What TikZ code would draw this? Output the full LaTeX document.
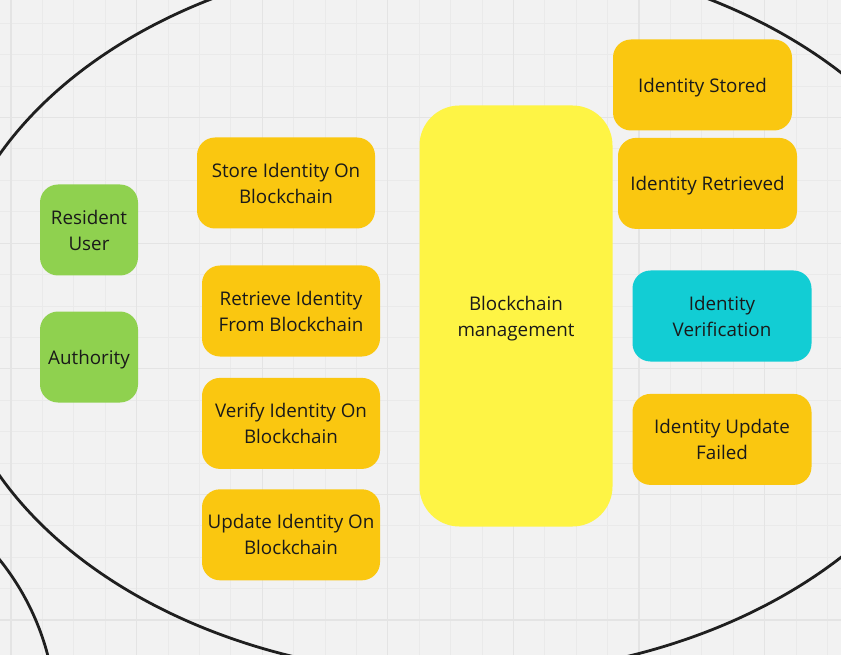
\documentclass[tikz,border=0pt]{standalone}
\usepackage{fontspec}
\setmainfont{Open Sans}
\usetikzlibrary{positioning}
\definecolor{canvas}{HTML}{F2F2F2}
\definecolor{gridminor}{HTML}{EAEAEA}
\definecolor{gridmajor}{HTML}{E4E4E4}
\definecolor{ink}{HTML}{1A1A1A}
\definecolor{stickygreen}{HTML}{8FD14F}
\definecolor{stickyorange}{HTML}{FAC710}
\definecolor{stickyyellow}{HTML}{FEF445}
\definecolor{stickycyan}{HTML}{12CDD4}
\tikzset{
  card/.style={rounded corners=18pt, font=\fontsize{18.8}{26}\selectfont, text=ink,
    align=center, minimum height=91pt, inner sep=2pt, text depth=0pt},
  actor/.style={card, fill=stickygreen, minimum width=98pt},
  usecase/.style={card, fill=stickyorange, minimum width=178pt},
  event/.style={card, fill=stickyorange, minimum width=179pt},
  check/.style={card, fill=stickycyan, minimum width=179pt},
  hub/.style={card, fill=stickyyellow, rounded corners=40pt, minimum width=193pt,
    minimum height=421pt},
  boundary/.style={draw=black!88, line width=2.8pt},
}
\begin{document}
\begin{tikzpicture}[x=1pt, y=-1pt, node distance=20pt and 20pt]
  \useasboundingbox (0,0) rectangle (841,655);
  \fill[canvas] (0,0) rectangle (841,655);
  % grid
  \foreach \i in {0,...,26} {
    \draw[gridminor, line width=1pt] ({11+31.4*\i},0) -- ++(0,655);
  }
  \foreach \j in {0,...,20} {
    \draw[gridminor, line width=1pt] (0,{-8+31.4*\j}) -- ++(841,0);
  }
  \foreach \i in {0,...,6} {
    \draw[gridmajor, line width=1.3pt] ({11+125.6*\i},0) -- ++(0,655);
  }
  \foreach \j in {0,...,5} {
    \draw[gridmajor, line width=1.3pt] (0,{-8+125.6*\j}) -- ++(841,0);
  }
  % system boundary
  \begin{scope}
    \clip (0,0) rectangle (841,655);
    \draw[boundary] (460,315) ellipse [x radius=514, y radius=361];
    \draw[boundary] (-200,720) circle [radius=256];
  \end{scope}
  % actors
  \node[actor] (resident) at (89,230) {Resident\\User};
  \node[actor] (authority) at (89,357) {Authority};
  % use cases
  \node[usecase] (store) at (286,183) {Store Identity On\\Blockchain};
  \node[usecase] (retrieve) at (291,311) {Retrieve Identity\\From Blockchain};
  \node[usecase, below=21pt of retrieve] (verify) {Verify Identity On\\Blockchain};
  \node[usecase, below=20pt of verify] (update) {Update Identity On\\Blockchain};
  % blockchain
  \node[hub] (chain) at (516,316) {Blockchain\\management};
  % outcomes
  \node[event] (stored) at (702.5,85) {Identity Stored};
  \node[event, below=7pt of stored, xshift=5pt] (retrieved) {Identity Retrieved};
  \node[check] (verified) at (722,316) {Identity\\Verification};
  \node[event, below=32pt of verified] (failed) {Identity Update\\Failed};
\end{tikzpicture}
\end{document}
